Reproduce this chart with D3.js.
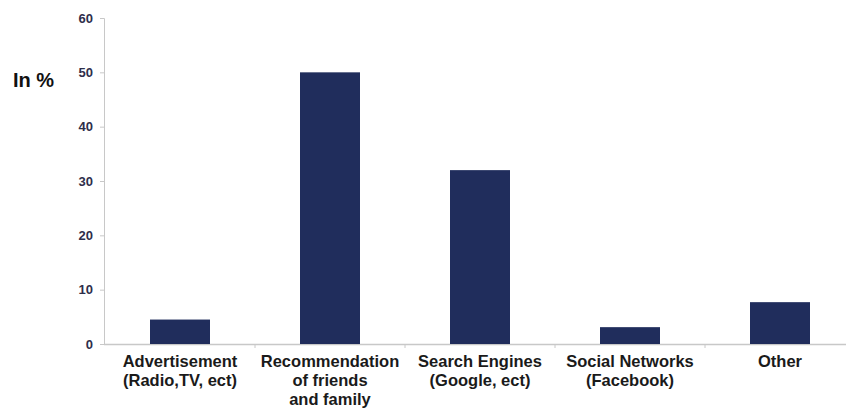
<!DOCTYPE html>
<html>
<head>
<meta charset="utf-8">
<script src="https://cdn.jsdelivr.net/npm/d3@7"></script>
<style>
  body { margin: 0; background: #fff; }
  svg { display: block; }
  text { font-family: "Liberation Sans", Arial, sans-serif; }
</style>
</head>
<body>
<div id="chart"></div>
<script>
// data
const categories = [
  ['Advertisement', '(Radio,TV, ect)'],
  ['Recommendation', 'of friends', 'and family'],
  ['Search Engines', '(Google, ect)'],
  ['Social Networks', '(Facebook)'],
  ['Other']
];
const values = [4.5, 50, 32, 3.1, 7.7];
const yTicks = [0, 10, 20, 30, 40, 50, 60];

const width = 846, height = 412;
const margin = { top: 18, right: -9, bottom: 68, left: 105 };

const svg = d3.select('#chart')
  .append('svg')
  .attr('width', width)
  .attr('height', height);

const x = d3.scaleBand()
  .domain(d3.range(categories.length))
  .range([margin.left, width - margin.right])
  .paddingInner(0.6)
  .paddingOuter(0.3);

const y = d3.scaleLinear()
  .domain([0, 60])
  .range([height - margin.bottom, margin.top]);

// y axis
const yAxis = svg.append('g')
  .attr('transform', `translate(${margin.left - 1},0)`)
  .call(d3.axisLeft(y).tickValues(yTicks).tickSize(4).tickPadding(7));
yAxis.select('.domain').attr('stroke', '#c8c8c8');
yAxis.selectAll('.tick line').attr('stroke', '#c8c8c8');
yAxis.selectAll('.tick text')
  .attr('fill', '#2e2e4a')
  .attr('font-size', 13)
  .attr('font-weight', 'bold');

// x axis line with ticks between categories
const step = x.step();
svg.append('line')
  .attr('x1', margin.left - 1)
  .attr('x2', width)
  .attr('y1', y(0) + 0.5)
  .attr('y2', y(0) + 0.5)
  .attr('stroke', '#c8c8c8')
  .attr('stroke-width', 1.5);
svg.selectAll('.xtick')
  .data(d3.range(1, categories.length))
  .enter()
  .append('line')
  .attr('x1', d => margin.left + d * step)
  .attr('x2', d => margin.left + d * step)
  .attr('y1', y(0))
  .attr('y2', y(0) + 4)
  .attr('stroke', '#c8c8c8');

// bars
svg.selectAll('rect')
  .data(values)
  .enter()
  .append('rect')
  .attr('x', (d, i) => x(i))
  .attr('y', d => y(d))
  .attr('width', x.bandwidth())
  .attr('height', d => y(0) - y(d))
  .attr('fill', '#202d5c');

// category labels
const labels = svg.selectAll('.cat')
  .data(categories)
  .enter()
  .append('text')
  .attr('class', 'cat')
  .attr('text-anchor', 'middle')
  .attr('font-size', 16.5)
  .attr('font-weight', 'bold')
  .attr('fill', '#1a1a1a');
labels.selectAll('tspan')
  .data((d, i) => d.map(line => ({ line, i })))
  .enter()
  .append('tspan')
  .attr('x', d => x(d.i) + x.bandwidth() / 2)
  .attr('y', (d, j) => y(0) + 23 + j * 19)
  .text(d => d.line);

// y label
svg.append('text')
  .attr('x', 13)
  .attr('y', 87)
  .attr('font-size', 20)
  .attr('font-weight', 'bold')
  .attr('fill', '#111')
  .text('In %');
</script>
</body>
</html>
